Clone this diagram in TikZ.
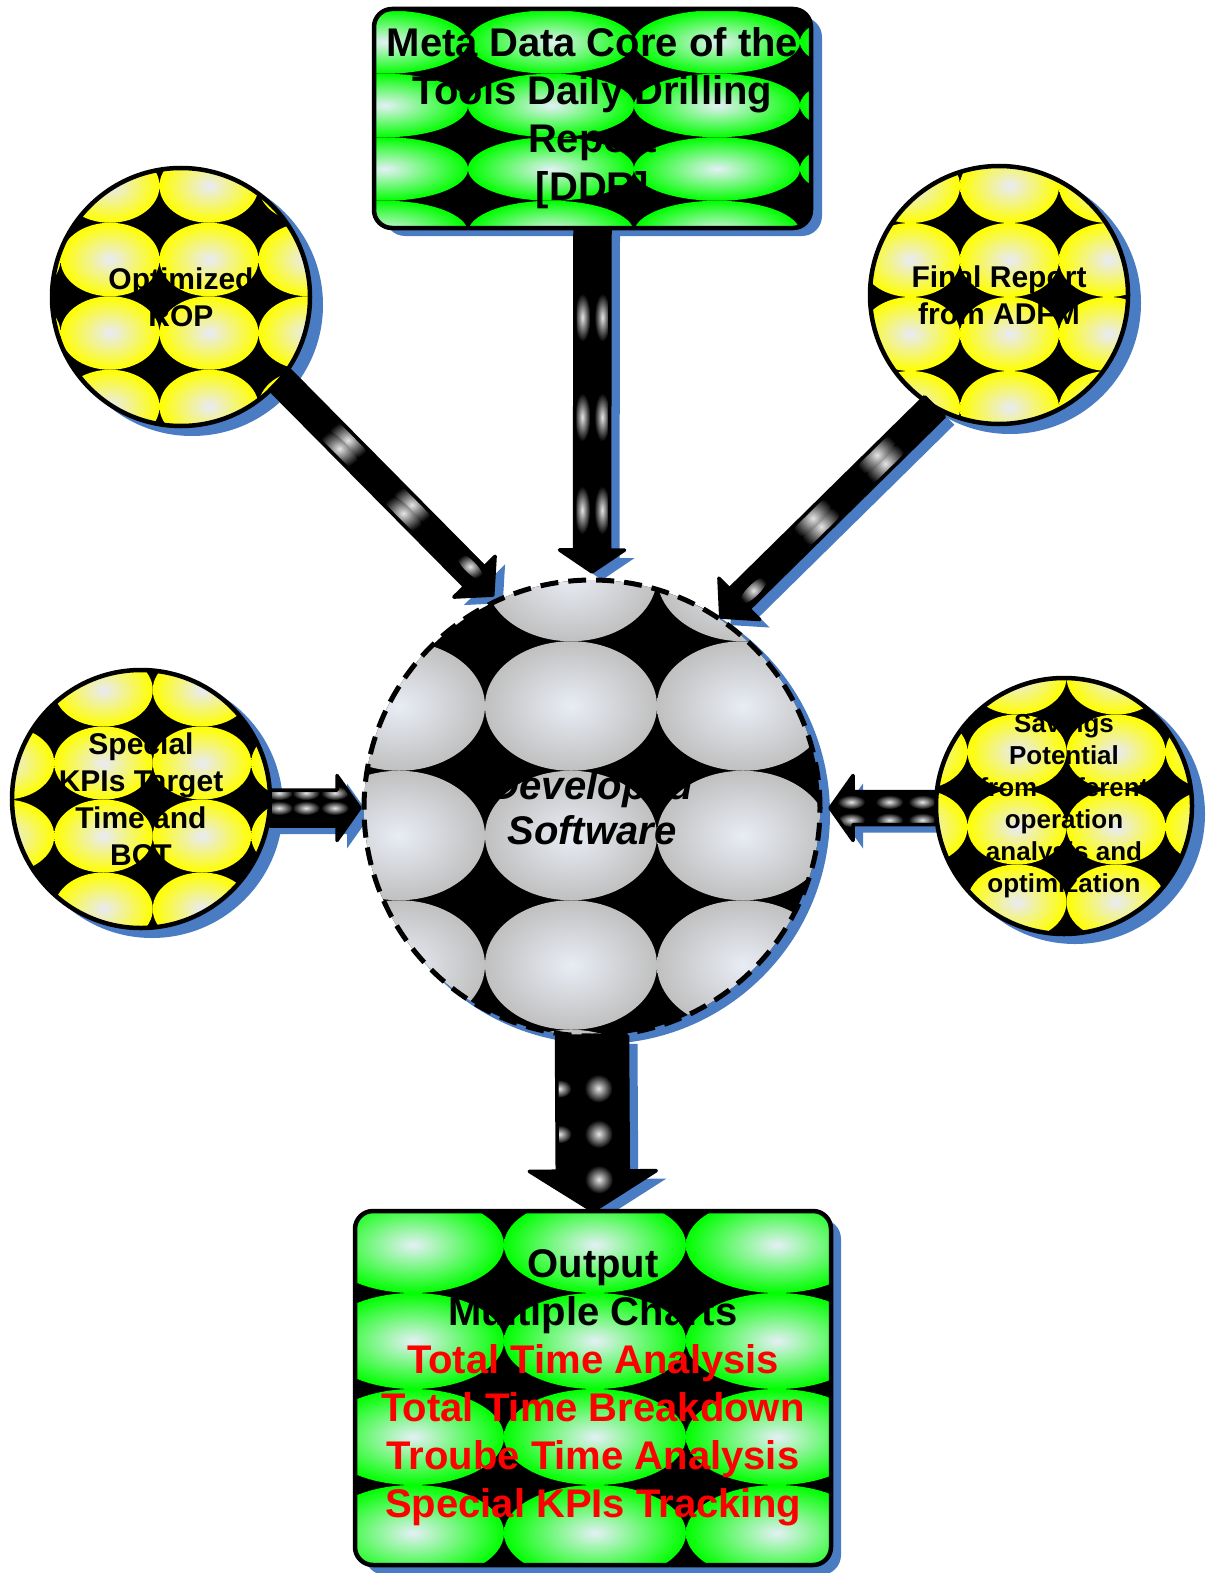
\documentclass[tikz,border=0pt]{standalone}
\usepackage{fontspec}
\setmainfont{Liberation Sans}
\usetikzlibrary{calc}
\definecolor{shadowblue}{RGB}{74,124,196}
\definecolor{pgreen}{RGB}{0,255,0}
\definecolor{pgreenin}{RGB}{228,240,246}
\definecolor{pyellow}{RGB}{255,255,0}
\definecolor{pyellowin}{RGB}{232,234,248}
\definecolor{pgrey}{RGB}{192,192,192}
\definecolor{pgreyin}{RGB}{232,236,244}
\definecolor{pred}{RGB}{255,0,0}
\pgfdeclarelayer{bg}
\pgfsetlayers{bg,main}

% grid of shaded ellipses on black: #1 x0, #2 y0, #3 w, #4 h, #5 nx, #6 ny, #7 outer, #8 inner
\newcommand\tilegrid[8]{%
  \fill[black] (-100,-100) rectangle (1400,1700);
  \foreach \ci in {0,...,#5}{\foreach \cj in {0,...,#6}{%
    \shade[inner color=#8, outer color=#7] ({#1+\ci*#3},{#2+\cj*#4}) ellipse [x radius={#3/2}, y radius={#4/2}];
  }}}

% block arrow: #1 id, #2 start, #3 tip, #4 shaft half width, #5 head half width, #6 head length, #7 spots t/offset/rx/ry
\newcommand\blockarrow[7]{%
  \coordinate (#1H) at ($(#3)!#6pt!(#2)$);
  \pgfmathanglebetweenpoints{\pgfpointanchor{#2}{center}}{\pgfpointanchor{#3}{center}}%
  \let\arrang\pgfmathresult
  \def\arrpoly{($(#2)!#4pt!90:(#3)$) -- ($(#1H)!#4pt!90:(#3)$) -- ($(#1H)!#5pt!90:(#3)$) -- (#3) -- ($(#1H)!#5pt!-90:(#3)$) -- ($(#1H)!#4pt!-90:(#3)$) -- ($(#2)!#4pt!-90:(#3)$) -- cycle}%
  \begin{pgfonlayer}{bg}
    \begin{scope}[transform canvas={xshift=10pt,yshift=-8pt}]
      \fill[shadowblue, line join=round] \arrpoly;
    \end{scope}
  \end{pgfonlayer}
  \begin{scope}
    \clip \arrpoly;
    \fill[black] \arrpoly;
    \foreach \st/\so/\sx/\sy in {#7}{%
      \coordinate (#1S) at ($(#2)!\st!(#3)$);
      \coordinate (#1T) at ($(#1S)!\so pt!90:(#3)$);
      \shade[arrspot, rotate around={\arrang:(#1T)}] (#1T) ellipse [x radius=\sx, y radius=\sy];
    }
  \end{scope}
  \draw[arrline] \arrpoly;
}

\tikzset{
  shapeborder/.style={draw=black, line width=4.5pt, inner sep=0pt, outer sep=0pt, align=center, text=black},
  circnode/.style={shapeborder, circle},
  boxnode/.style={shapeborder, rectangle, rounded corners=18pt},
  arrline/.style={draw=black, line width=3.5pt, line join=round},
  arrspot/.style={inner color=white!90!black, outer color=black},
  smallfont/.style={font=\bfseries\fontsize{30}{37}\selectfont},
  bigfont/.style={font=\bfseries\fontsize{40}{48}\selectfont},
}

\begin{document}
\begin{tikzpicture}[x=1pt,y=-1pt]
\useasboundingbox (0,0) rectangle (1205,1573);

% ---------- shadows of shapes ----------
\fill[shadowblue, rounded corners=20pt] (385,17) rectangle (822,236);
\fill[shadowblue] (192,305) circle[radius=131];
\fill[shadowblue] (1010,303) circle[radius=131];
\fill[shadowblue] (152,807) circle[radius=131];
\fill[shadowblue] (1075,814) circle[radius=130];
\fill[shadowblue] (600,814) circle[radius=230];
\fill[shadowblue, rounded corners=20pt] (365,1219) rectangle (841,1575);

% ---------- patterned fills ----------
\begin{scope}
  \clip[rounded corners=18pt] (374,9) rectangle (811,228);
  \tilegrid{385}{42}{166}{63.5}{3}{3}{pgreen}{pgreenin}
\end{scope}
\begin{scope}
  \clip (181,297) circle[radius=129];
  \tilegrid{11}{186}{99}{73.5}{3}{3}{pyellow}{pyellowin}
\end{scope}
\begin{scope}
  \clip (999,295) circle[radius=129];
  \tilegrid{910.5}{186}{99}{74}{2}{3}{pyellow}{pyellowin}
\end{scope}
\begin{scope}
  \clip (141,799) circle[radius=129];
  \tilegrid{5}{690}{98.5}{73}{3}{3}{pyellow}{pyellowin}
\end{scope}
\begin{scope}
  \clip (1064,806) circle[radius=128];
  \tilegrid{918}{677}{99}{75}{3}{3}{pyellow}{pyellowin}
\end{scope}
\begin{scope}
  \clip (592,808) circle[radius=228];
  \tilegrid{399}{576.5}{172}{129.5}{2}{4}{pgrey}{pgreyin}
\end{scope}
\begin{scope}
  \clip[rounded corners=18pt] (355,1211) rectangle (831,1565);
  \tilegrid{413}{1245}{182}{96}{2}{3}{pgreen}{pgreenin}
\end{scope}

% ---------- nodes ----------
\node[boxnode, bigfont, minimum width=437pt, minimum height=219pt] (ddr) at (592.5,118.5)
  {Meta Data Core of the\\Tools Daily Drilling\\Report\\{[DDR]}};
\node[circnode, smallfont, minimum size=258pt] (rop) at (181,297) {Optimized\\ROP};
\node[circnode, smallfont, minimum size=258pt] (fin) at (999,295) {Final Report\\from ADFM};
\node[circnode, smallfont, minimum size=258pt] (kpi) at (141,799) {Special\\KPIs Target\\Time and\\BCT};
\node[circnode, font=\bfseries\fontsize{26}{32}\selectfont, minimum size=256pt] (sav) at (1064,806)
  {Savings\\Potential\\from different\\operation\\analysis and\\optimization};
\node[circnode, line width=5pt, dash pattern=on 18pt off 10pt, minimum size=456pt,
      font=\bfseries\itshape\fontsize{40}{45}\selectfont] (sw) at (592,808) {Developed\\Software};
\node[boxnode, bigfont, minimum width=476pt, minimum height=354pt] (out) at (593,1388)
  {Output\\Multiple Charts\\\textcolor{pred}{Total Time Analysis}\\\textcolor{pred}{Total Time Breakdown}\\\textcolor{pred}{Troube Time Analysis}\\\textcolor{pred}{Special KPIs Tracking}};

% ---------- arrows ----------
\coordinate (a1s) at (ddr.south);
\coordinate (a1e) at ($(sw.north)+(0,-8)$);
\blockarrow{a1}{a1s}{a1e}{17.5}{32.5}{22}{0.26/10/24/8, 0.26/-10/24/8, 0.55/10/24/8, 0.55/-10/24/8, 0.82/10/24/8, 0.82/-10/24/8}

\coordinate (a2s) at (sw.south);
\coordinate (a2e) at (out.north);
\blockarrow{a2}{a2s}{a2e}{35.5}{63.5}{40}{0.3/6/14/14, 0.56/6/14/14, 0.82/6/14/14, 0.3/-33/9/12, 0.56/-33/9/12}

\coordinate (a3s) at (kpi.east |- sw.center);
\coordinate (a3e) at ($(sw.west)+(-4,0)$);
\blockarrow{a3}{a3s}{a3e}{18}{32.5}{23}{0.1/15/14/7, 0.4/15/14/7, 0.72/15/14/7, 0.1/0/14/7, 0.4/0/14/7, 0.72/0/14/7}

\coordinate (a4s) at (sav.west |- sw.center);
\coordinate (a4e) at ($(sw.east)+(10,0)$);
\blockarrow{a4}{a4s}{a4e}{16.5}{32.5}{23}{0.13/12/14/7, 0.44/12/14/7, 0.8/12/14/7, 0.13/-6/14/7, 0.44/-6/14/7, 0.8/-6/14/7}

\coordinate (a5s) at (rop.-40);
\coordinate (a5e) at ($(sw.center)!1.03!(sw.115)$);
\blockarrow{a5}{a5s}{a5e}{14}{29}{26}{0.3/6/27/8, 0.3/-6/27/8, 0.6/6/27/8, 0.6/-6/27/8, 0.88/4/18/6}

\coordinate (a6s) at (fin.-120);
\coordinate (a6e) at ($(sw.center)!1.01!(sw.56)$);
\blockarrow{a6}{a6s}{a6e}{14}{29}{26}{0.25/6/27/8, 0.25/-6/27/8, 0.55/6/27/8, 0.55/-6/27/8, 0.86/4/18/6}
\end{tikzpicture}
\end{document}
